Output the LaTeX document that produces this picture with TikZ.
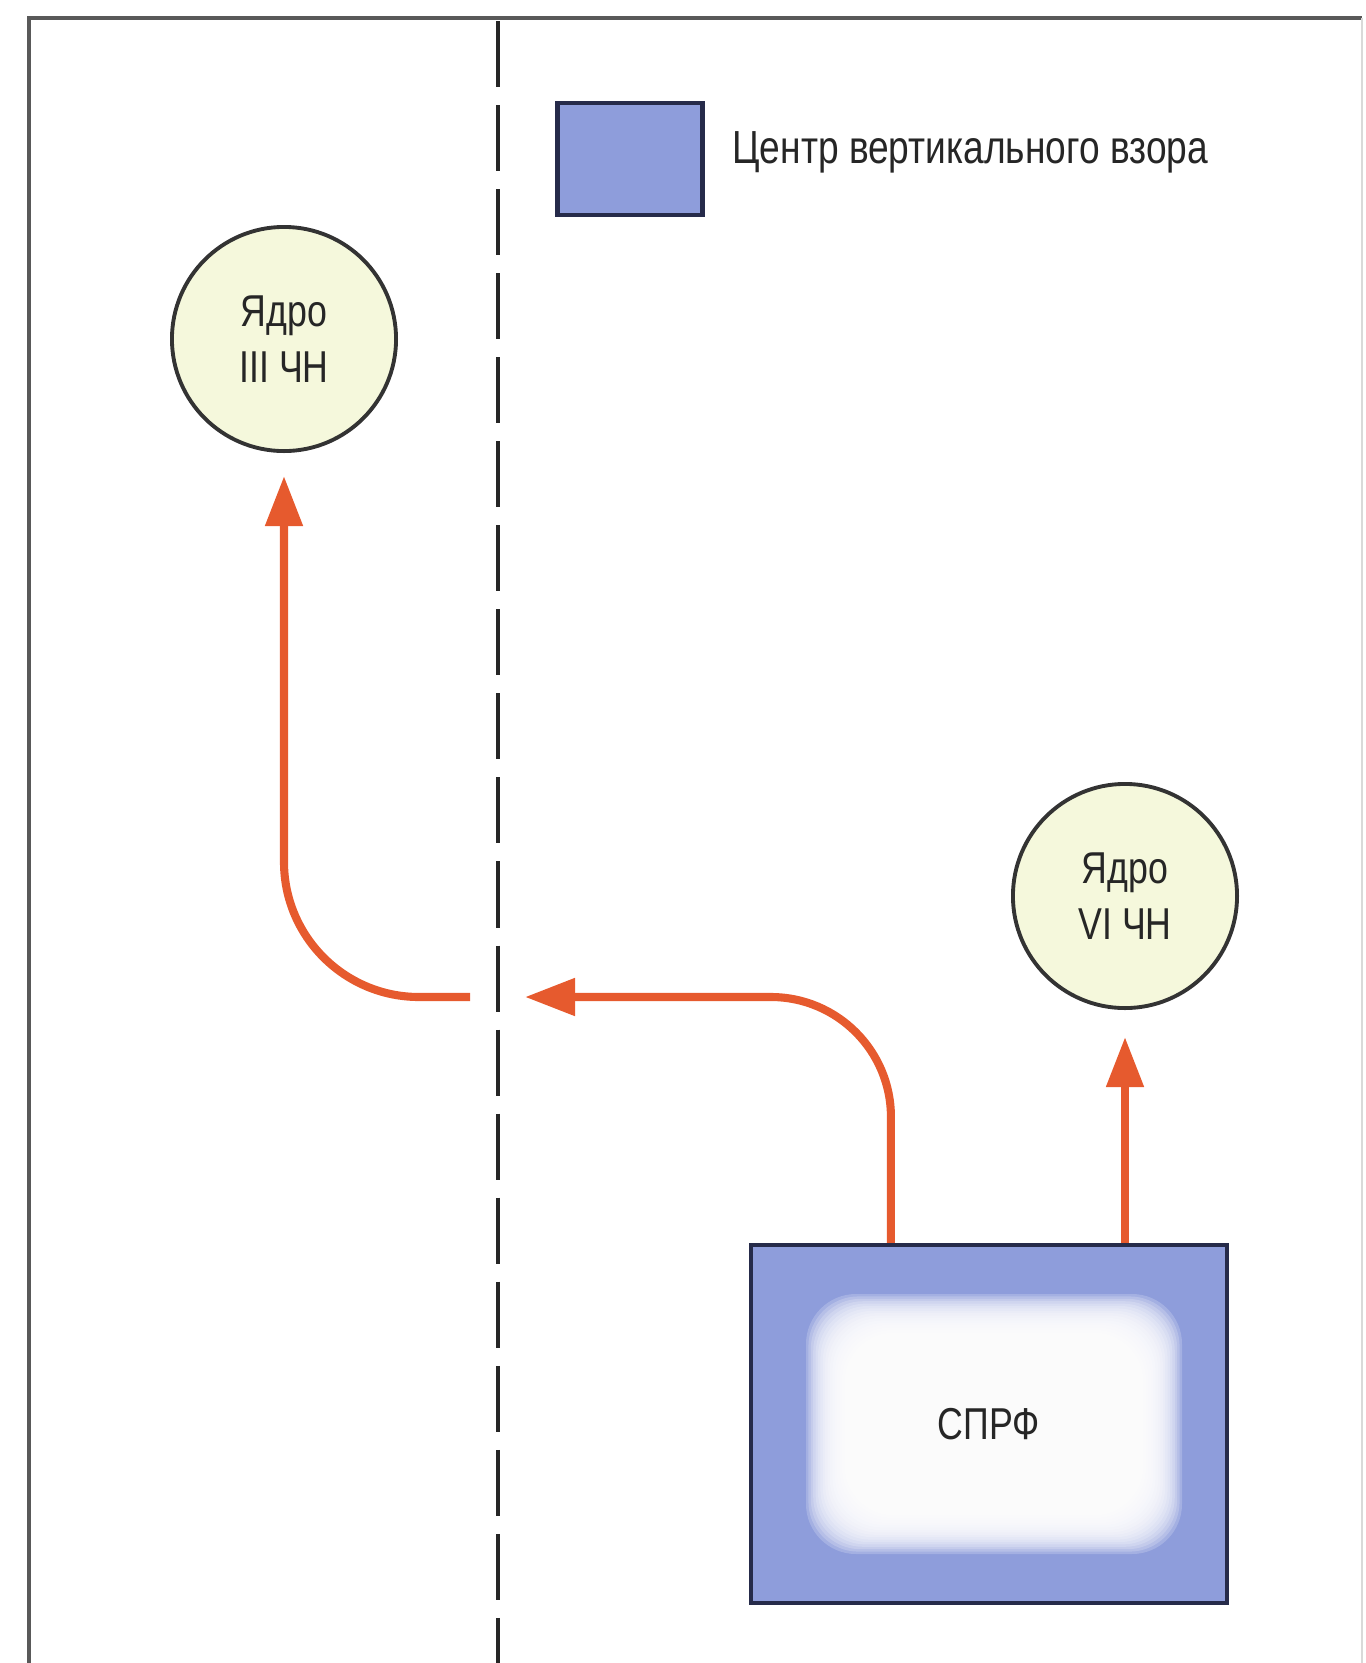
\documentclass[tikz,border=0pt]{standalone}
\usepackage{fontspec}
\setmainfont{Liberation Sans}[FakeStretch=0.8]
\usetikzlibrary{arrows.meta,positioning}
\definecolor{gaze}{HTML}{8E9DDB}
\definecolor{nucleus}{HTML}{F5F8DC}
\definecolor{signal}{HTML}{E65A2E}
\definecolor{rim}{HTML}{262B4A}

\begin{document}
\begin{tikzpicture}[x=0.01cm, y=-0.01cm,
  core/.style={circle, draw=black!80, line width=1.1pt, fill=nucleus, minimum size=2.24cm,
               inner sep=0pt, align=center, text=black!85, font=\fontsize{12.7}{16}\selectfont},
  gazebox/.style={draw=rim, line width=1.2pt, fill=gaze},
  arr/.style={-{Triangle[length=0.5cm, width=0.36cm]}, line width=2.3pt, draw=signal},
]
  \useasboundingbox (0,0) rectangle (1365,1663);

  % frame and midline
  \draw[black!65, line width=1pt] (29,1663) -- (29,18) -- (1362,18);
  \draw[black!15, line width=0.6pt] (1362,18) -- (1362,1663);
  \draw[black!85, line width=1.3pt, dash pattern=on 0.66cm off 0.18cm] (498,21) -- (498,1663);

  % legend
  \node[gazebox, minimum width=1.45cm, minimum height=1.12cm] (key) at (630,159) {};
  \node[anchor=west, text=black!85, font=\fontsize{13.2}{16}\selectfont] (keytext) at (720,152)
    {Центр вертикального взора};

  \node[core] (iii) at (284,339) {Ядро\\III ЧН};
  \node[core] (vi) at (1125,896) {Ядро\\VI ЧН};

  \node[gazebox, minimum width=4.76cm, minimum height=3.58cm] (sprf) at (989,1424) {};
  % soft white spot inside the box
  \begin{scope}[shift={(sprf.center)}, xshift=0.05cm]
    \foreach \k in {0,...,23}
      \fill[white, opacity=0.2, rounded corners=0.5cm]
        (-188+2.4*\k,-130+2.4*\k) rectangle (188-2.4*\k,130-2.4*\k);
  \end{scope}
  \node[text=black!85, font=\fontsize{12.7}{16}\selectfont] (sprftext) at (sprf.center) {СПРФ};

  \coordinate (cross) at (525,997);
  \coordinate (back) at (470,997);

  \draw[arr, shorten >=0.27cm] (sprf.north -| vi) -- (vi.south);
  \draw[arr, rounded corners=1.2cm] ([xshift=-0.98cm]sprf.north) |- (cross);
  \draw[arr, rounded corners=1.35cm, shorten >=0.23cm] (back) -| (iii.south);
\end{tikzpicture}
\end{document}
